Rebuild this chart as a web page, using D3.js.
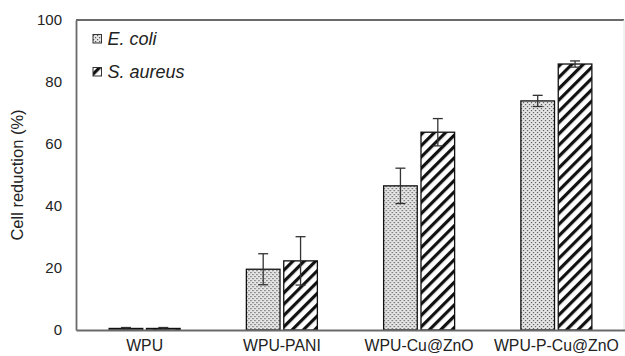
<!DOCTYPE html>
<html><head><meta charset="utf-8">
<script src="https://cdn.jsdelivr.net/npm/d3@7"></script>
<style>body{margin:0;background:#fff}svg{display:block}</style>
</head><body>
<svg id="c" width="625" height="356"></svg>
<script>
const categories = ["WPU", "WPU-PANI", "WPU-Cu@ZnO", "WPU-P-Cu@ZnO"];
const seriesNames = ["E. coli", "S. aureus"];
const ecoli = [0.5, 19.6, 46.5, 73.9];
const ecoliErr = [0.3, 5.0, 5.7, 1.8];
const saureus = [0.5, 22.3, 63.8, 85.8];
const saureusErr = [0.3, 7.8, 4.4, 1.0];
const yTicks = [0, 20, 40, 60, 80, 100];

const FONT = "Liberation Sans, Arial, sans-serif";
const svg = d3.select("#c");
const m = {l: 76};
const x = d3.scaleBand().domain(categories).range([m.l, 625]).paddingInner(0).paddingOuter(0);
const y = d3.scaleLinear().domain([0, 100]).range([330, 20]);
const x1 = d3.scaleBand().domain(seriesNames).range([0, 71]).paddingInner(0.1);

const defs = svg.append("defs");
const dots = defs.append("pattern").attr("id", "dots").attr("patternUnits", "userSpaceOnUse")
  .attr("width", 4).attr("height", 4);
dots.append("rect").attr("width", 4).attr("height", 4).attr("fill", "#e6e6e6");
dots.append("rect").attr("x", 0).attr("y", 0).attr("width", 1.2).attr("height", 1.2).attr("fill", "#555");
dots.append("rect").attr("x", 2).attr("y", 2).attr("width", 1.2).attr("height", 1.2).attr("fill", "#555");
const stripes = defs.append("pattern").attr("id", "stripes").attr("patternUnits", "userSpaceOnUse")
  .attr("width", 8).attr("height", 8).attr("patternTransform", "rotate(45)");
stripes.append("rect").attr("width", 8).attr("height", 8).attr("fill", "#fff");
stripes.append("rect").attr("x", 0).attr("width", 3.2).attr("height", 8).attr("fill", "#111");
const fills = ["url(#dots)", "url(#stripes)"];

// frame
svg.append("line").attr("x1", m.l).attr("x2", 624).attr("y1", 20).attr("y2", 20).attr("stroke", "#6a6a6a").attr("stroke-width", 1.8);
svg.append("line").attr("x1", 624).attr("x2", 624).attr("y1", 20).attr("y2", 330).attr("stroke", "#e4e4e4").attr("stroke-width", 1);

// y axis
const yAxis = d3.axisLeft(y).tickValues(yTicks).tickSize(0).tickPadding(14);
const gy = svg.append("g").attr("transform", `translate(${m.l},0)`).call(yAxis);
gy.select(".domain").attr("stroke", "#6a6a6a").attr("stroke-width", 1.8);
gy.selectAll("text").attr("font-family", FONT).attr("font-size", 15).attr("fill", "#222");

svg.append("text").attr("transform", "translate(23,175) rotate(-90)").attr("text-anchor", "middle")
  .attr("font-family", FONT).attr("font-size", 16.5).attr("fill", "#222")
  .text("Cell reduction (%)");

// bars
const data = categories.map((c, i) => ({c, vals: [
  {s: seriesNames[0], v: ecoli[i], e: ecoliErr[i], k: 0},
  {s: seriesNames[1], v: saureus[i], e: saureusErr[i], k: 1}]}));
const groups = svg.append("g").selectAll("g").data(data).join("g")
  .attr("transform", d => `translate(${x(d.c) + x.bandwidth()/2 - 35.5},0)`);
groups.selectAll("rect").data(d => d.vals).join("rect")
  .attr("x", d => x1(d.s)).attr("width", x1.bandwidth())
  .attr("y", d => y(d.v)).attr("height", d => y(0) - y(d.v))
  .attr("fill", d => fills[d.k]).attr("stroke", "#111").attr("stroke-width", 1.3);
// error bars
const eb = groups.selectAll("g.eb").data(d => d.vals).join("g").attr("class", "eb");
const cx = d => x1(d.s) + x1.bandwidth()/2;
eb.append("line").attr("x1", cx).attr("x2", cx)
  .attr("y1", d => y(d.v + d.e)).attr("y2", d => y(d.v - d.e)).attr("stroke", "#333").attr("stroke-width", 1.3);
eb.append("line").attr("x1", d => cx(d) - 5).attr("x2", d => cx(d) + 5)
  .attr("y1", d => y(d.v + d.e)).attr("y2", d => y(d.v + d.e)).attr("stroke", "#333").attr("stroke-width", 1.3);
eb.append("line").attr("x1", d => cx(d) - 5).attr("x2", d => cx(d) + 5)
  .attr("y1", d => y(d.v - d.e)).attr("y2", d => y(d.v - d.e)).attr("stroke", "#333").attr("stroke-width", 1.3);

// x axis
const xAxis = d3.axisBottom(x).tickSize(0).tickPadding(10);
const gx = svg.append("g").attr("transform", `translate(0,330)`).call(xAxis);
gx.select(".domain").attr("stroke", "#6a6a6a").attr("stroke-width", 1.8);
gx.selectAll("text").attr("font-family", FONT).attr("font-size", 15.8).attr("fill", "#222");

// legend
const lg = svg.append("g").selectAll("g").data(seriesNames).join("g")
  .attr("transform", (d, i) => `translate(93,${39 + i * 33})`);
lg.append("rect").attr("x", 0).attr("y", -4.5).attr("width", 8.5).attr("height", 8.5)
  .attr("fill", (d, i) => fills[i]).attr("stroke", "#333").attr("stroke-width", 1);
lg.append("text").attr("x", 14.5).attr("y", 0).attr("dy", "0.35em")
  .attr("font-family", FONT).attr("font-size", 18).attr("font-style", "italic")
  .attr("fill", "#222").text(d => d);
</script>
</body></html>
